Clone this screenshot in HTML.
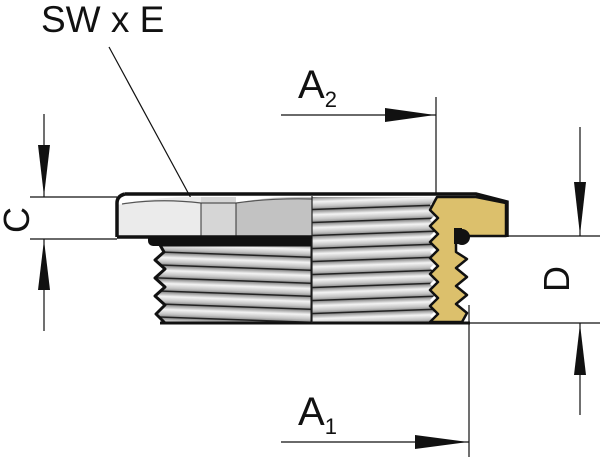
<!DOCTYPE html>
<html><head><style>html,body{margin:0;padding:0;background:#fff}svg{display:block}</style></head><body>
<svg width="600" height="457" viewBox="0 0 600 457" xmlns="http://www.w3.org/2000/svg" font-family="'Liberation Sans',sans-serif">
<defs>
<linearGradient id="st" x1="0" y1="0" x2="0" y2="1">
<stop offset="0" stop-color="#8a8a8a"/><stop offset="0.35" stop-color="#f4f4f4"/><stop offset="0.7" stop-color="#c4c4c4"/><stop offset="1" stop-color="#7a7a7a"/>
</linearGradient>
<pattern id="thL" patternUnits="userSpaceOnUse" width="400" height="13" patternTransform="rotate(2)">
<rect width="400" height="13" fill="url(#st)"/><rect y="11.5" width="400" height="1.5" fill="#222"/>
</pattern>
<pattern id="thR" patternUnits="userSpaceOnUse" width="400" height="13" patternTransform="rotate(-2)">
<rect width="400" height="13" fill="url(#st)"/><rect y="11.5" width="400" height="1.5" fill="#222"/>
</pattern>
</defs>
<text x="41" y="32" font-size="37" fill="#111">SW x E</text>
<line x1="109" y1="47" x2="205" y2="224" stroke="#111" stroke-width="1.2"/>
<rect x="148" y="233" width="165" height="13" rx="5" fill="#111"/>
<path d="M160 245 L312 245 L312 323 L165 323 L156 314 L165 305 L155 296 L165 287 L155 278 L165 269 L155 260 L164 252 Z" fill="url(#thL)" stroke="#111" stroke-width="3" stroke-linejoin="round"/>
<path d="M312 197 L438 197 L430 205 L438 212 L430 220 L438 228 L430 236 L438 244 L430 252 L438 260 L430 268 L438 276 L430 284 L438 292 L430 300 L438 308 L430 316 L436 322 L312 323 Z" fill="url(#thR)" stroke="none"/>
<line x1="160" y1="323" x2="470" y2="323" stroke="#111" stroke-width="3"/>
<path d="M117 205 Q160 196 201 197 L201 237 L117 237 Z" fill="#ebebeb"/>
<path d="M201 197 L236 197 L236 237 L201 237 Z" fill="#d6d6d6"/>
<path d="M236 203 Q270 196 312 197 L312 237 L236 237 Z" fill="#c2c2c2"/>
<path d="M122 204 Q160 198 201 203 L236 203 Q270 198 312 199" fill="none" stroke="#555" stroke-width="1.2"/>
<line x1="201" y1="203" x2="201" y2="237" stroke="#333" stroke-width="1"/>
<line x1="236" y1="203" x2="236" y2="237" stroke="#333" stroke-width="1"/>
<line x1="312" y1="196" x2="312" y2="323" stroke="#222" stroke-width="1.2"/>
<path d="M437 197 L476 197 L506 203 L506 236 L456 236 L456 252 L467 259 L456 268 L467 277 L456 286 L467 295 L456 304 L467 313 L462 322 L430 322 L438 314 L430 306 L438 298 L430 290 L438 282 L430 274 L438 266 L430 258 L438 250 L430 242 L438 234 L430 226 L438 218 L430 210 Z" fill="#dcc06c" stroke="#111" stroke-width="2.5" stroke-linejoin="round"/>
<circle cx="462" cy="237" r="8" fill="#111"/>
<rect x="454" y="228" width="8" height="16" fill="#111"/>
<path d="M125 194 L476 194 L507 202 L507 237 M117 237 L117 203 Q117 196 125 194 M117 237 L312 237" fill="none" stroke="#111" stroke-width="3.5"/>
<line x1="30" y1="197" x2="117" y2="197" stroke="#111" stroke-width="1.2"/>
<line x1="30" y1="239" x2="117" y2="239" stroke="#111" stroke-width="1.2"/>
<line x1="44" y1="114" x2="44" y2="197" stroke="#111" stroke-width="1.2"/>
<polygon points="38,145 50,145 44,196" fill="#111"/>
<line x1="44" y1="239" x2="44" y2="331" stroke="#111" stroke-width="1.2"/>
<polygon points="38,290 50,290 44,240" fill="#111"/>
<text transform="translate(29,220) rotate(-90)" font-size="36" text-anchor="middle" fill="#111">C</text>
<line x1="507" y1="236" x2="600" y2="236" stroke="#111" stroke-width="1.2"/>
<line x1="466" y1="323" x2="600" y2="323" stroke="#111" stroke-width="1.2"/>
<line x1="580" y1="127" x2="580" y2="236" stroke="#111" stroke-width="1.2"/>
<polygon points="574,182 586,182 580,235" fill="#111"/>
<line x1="580" y1="323" x2="580" y2="415" stroke="#111" stroke-width="1.2"/>
<polygon points="574,375 586,375 580,324" fill="#111"/>
<text transform="translate(569,279) rotate(-90)" font-size="36" text-anchor="middle" fill="#111">D</text>
<line x1="436" y1="97" x2="436" y2="194" stroke="#111" stroke-width="1.2"/>
<line x1="281" y1="115" x2="436" y2="115" stroke="#111" stroke-width="1.2"/>
<polygon points="385,108 385,122 435,115" fill="#111"/>
<text x="298" y="98" font-size="40" fill="#111">A<tspan font-size="22" dy="9">2</tspan></text>
<line x1="469" y1="305" x2="469" y2="457" stroke="#111" stroke-width="1.2"/>
<line x1="281" y1="442" x2="469" y2="442" stroke="#111" stroke-width="1.2"/>
<polygon points="415,435 415,449 468,442" fill="#111"/>
<text x="298" y="425" font-size="40" fill="#111">A<tspan font-size="22" dy="9">1</tspan></text>
</svg>
</body></html>
